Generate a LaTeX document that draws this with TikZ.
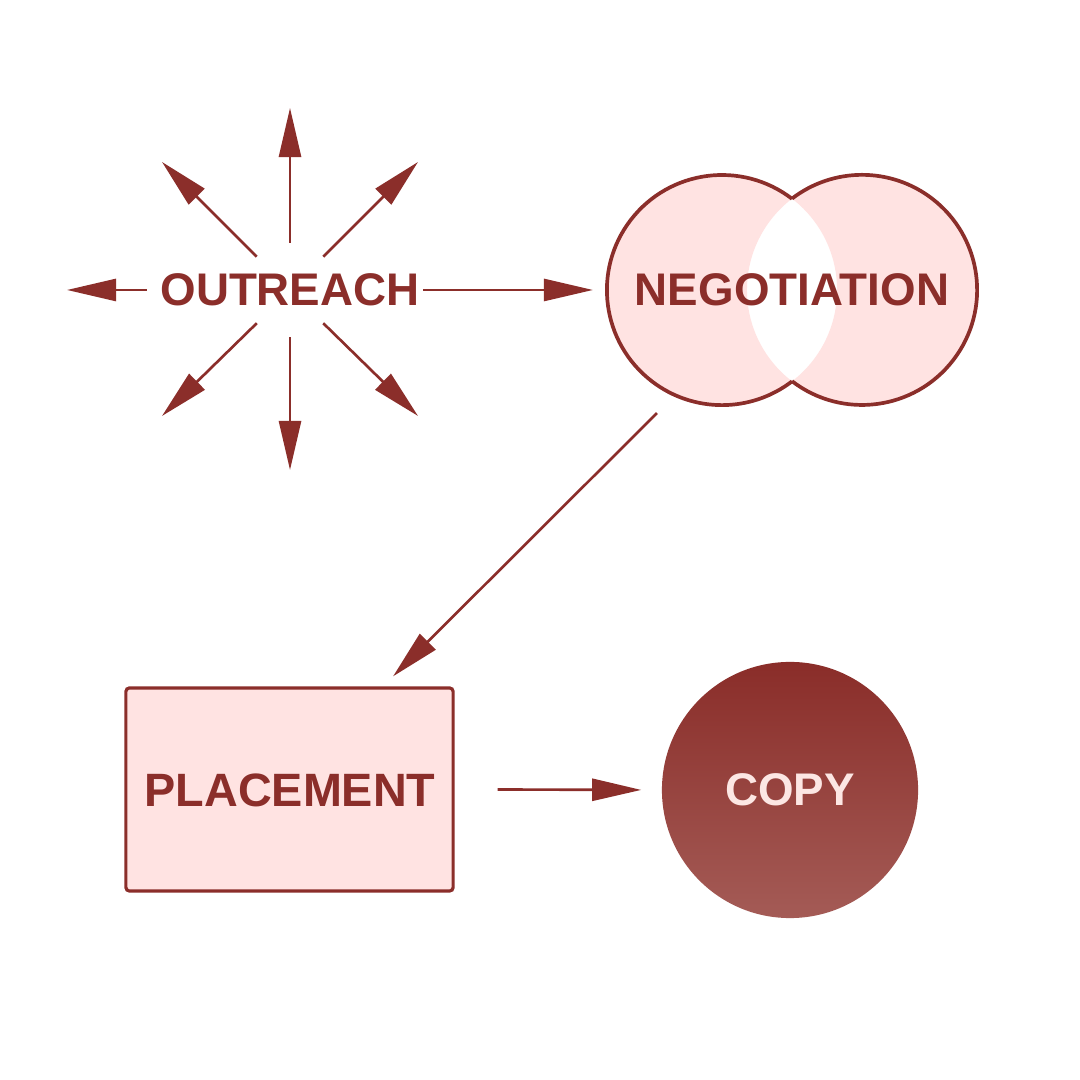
\documentclass[tikz,border=0pt]{standalone}
\usepackage{fontspec}
\setmainfont{Liberation Sans}
\usetikzlibrary{arrows.meta}
\definecolor{dark}{HTML}{8B2E2A}
\definecolor{pinkfill}{HTML}{FFE3E2}
\definecolor{copytop}{HTML}{8A2D29}
\definecolor{copybot}{HTML}{A45B56}
\definecolor{copytext}{HTML}{FCE6E3}
\tikzset{
  lbl/.style={font=\fontsize{13}{15}\selectfont\bfseries, text=dark, inner sep=0pt},
  arr/.style={draw=dark, line width=0.75pt, -{Triangle[length=0.49cm, width=0.22cm]}},
  ring/.style={line width=1.05pt, draw=dark},
}
\begin{document}
\begin{tikzpicture}[x=0.01cm, y=0.01cm]
\fill[white] (0,0) rectangle (1080,1080);
\useasboundingbox (0,0) rectangle (1080,1080);

% OUTREACH star
\node[lbl] (outreach) at (290,790) {OUTREACH};
\node[circle, minimum size=0.94cm, inner sep=0pt, outer sep=0pt] (hub) at (290,790) {};
\coordinate (tN) at (290,972);
\coordinate (tS) at (290,610);
\coordinate (tW) at (67,790);
\coordinate (tNW) at (162,918);
\coordinate (tNE) at (418,918);
\coordinate (tSW) at (162,664);
\coordinate (tSE) at (418,664);
\draw[arr] (hub.north) -- (tN);
\draw[arr] (hub.south) -- (tS);
\draw[arr] (hub.north west) -- (tNW);
\draw[arr] (hub.north east) -- (tNE);
\draw[arr] (hub.south west) -- (tSW);
\draw[arr] (hub.south east) -- (tSE);
\draw[arr] ([xshift=-0.13cm]outreach.west) -- (tW);

% NEGOTIATION
\node[circle, minimum size=2.30cm, inner sep=0pt, outer sep=0pt] (negL) at (722,790) {};
\node[circle, minimum size=2.30cm, inner sep=0pt, outer sep=0pt] (negR) at (862,790) {};
\fill[pinkfill, even odd rule] (negL.center) circle[radius=1.15cm] (negR.center) circle[radius=1.15cm];
\draw[ring] (792,881.2) arc[start angle=52.5, end angle=307.5, radius=1.15cm];
\draw[ring] (792,698.8) arc[start angle=-127.5, end angle=127.5, radius=1.15cm];
\node[lbl] (neg) at (792,790) {NEGOTIATION};

\draw[arr, shorten >=0.14cm] ([xshift=0.03cm]outreach.east) -- (negL.west);

% PLACEMENT
\node[draw=dark, line width=0.9pt, fill=pinkfill, rounded corners=1pt,
      minimum width=3.27cm, minimum height=2.03cm, inner sep=0pt] (place) at (289.5,290.5) {};
\node[lbl, font=\fontsize{13.3}{15}\selectfont\bfseries] (placetxt) at (290,290) {PLACEMENT};

% COPY
\node[circle, minimum size=2.56cm, inner sep=0pt, top color=copytop, bottom color=copybot,
      font=\fontsize{13}{15}\selectfont\bfseries, text=copytext] (copy) at (790,290) {COPY};

% connectors
\draw[arr] ([shift={(-0.65cm,-1.23cm)}]negL.center) -- ([shift={(1.035cm,0.1cm)}]place.north);
\draw[arr, shorten >=0.2cm] ([xshift=0.43cm]place.east) -- (copy.west);
\end{tikzpicture}
\end{document}
